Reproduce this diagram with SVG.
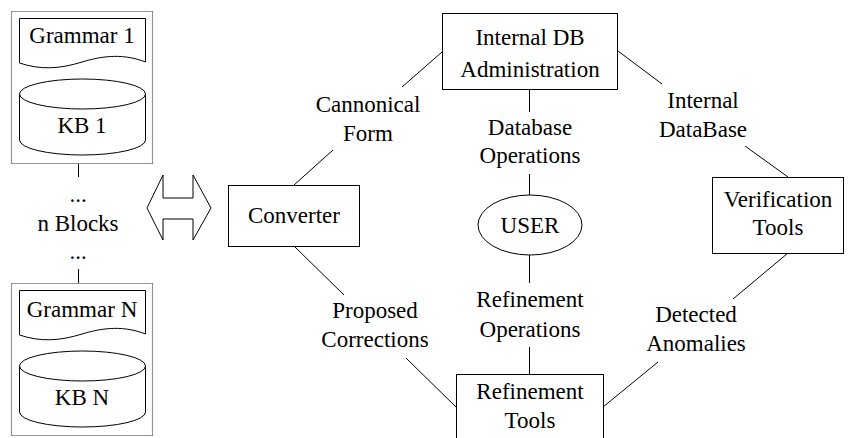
<svg xmlns="http://www.w3.org/2000/svg" width="857" height="438" viewBox="0 0 857 438" font-family="Liberation Serif, DejaVu Serif, serif">
<style>
text{font-size:23px;fill:#000;text-anchor:middle}
.s{fill:#fff;stroke:#000;stroke-width:1}
.blk{fill:#fff;stroke:#555;stroke-width:1.2;stroke-dasharray:1.2,0.8}
.c line{stroke:#000;stroke-width:1}
</style>
<defs>
<g id="block">
<rect class="blk" x="11.5" y="11.5" width="141" height="152"/>
<path class="s" d="M19.5,18.5 H145.5 V62 C125,54 105,55 82,62 C60,69 40,70 19.5,63 Z"/>
<path class="s" d="M19.5,94 V140 A63,15 0 0 0 145.5,140 V94"/>
<ellipse class="s" cx="82.5" cy="94" rx="63" ry="15"/>
</g>
</defs>
<rect width="857" height="438" fill="#fff"/>
<g class="c">
<line x1="78.5" y1="163" x2="78.5" y2="177"/>
<line x1="78.5" y1="269" x2="78.5" y2="283"/>
<line x1="294" y1="185" x2="333" y2="150"/>
<line x1="402" y1="87" x2="442" y2="52"/>
<line x1="618" y1="51" x2="662" y2="84"/>
<line x1="745" y1="146" x2="788" y2="177"/>
<line x1="788" y1="253" x2="733" y2="299"/>
<line x1="658" y1="362" x2="603" y2="407"/>
<line x1="294" y1="246" x2="344" y2="295"/>
<line x1="406" y1="358" x2="456" y2="407"/>
<line x1="529.5" y1="89" x2="529.5" y2="112"/>
<line x1="529.5" y1="174" x2="529.5" y2="195"/>
<line x1="529.5" y1="255" x2="529.5" y2="283"/>
<line x1="529.5" y1="347" x2="529.5" y2="374"/>
</g>
<g id="block1">
<use href="#block"/>
<text x="82" y="43" font-family="Liberation Serif">Grammar 1</text>
<text x="82" y="133">KB 1</text>
</g>
<g id="blockN">
<use href="#block" transform="translate(0,272)"/>
<text x="82" y="317">Grammar N</text>
<text x="82" y="405">KB N</text>
</g>
<g id="nblocks">
<text x="78" y="202">...</text>
<text x="78" y="231">n Blocks</text>
<text x="78" y="259">...</text>
</g>
<g id="arrow">
<polygon class="s" points="147,208 163,175 163,198 193,198 193,175 211,208 193,240 193,219 163,219 163,240"/>
</g>
<g id="converter">
<rect class="s" x="228.5" y="185.5" width="131" height="61"/>
<text x="294" y="223">Converter</text>
</g>
<g id="idb">
<rect class="s" x="442.5" y="13.5" width="175" height="76"/>
<text x="530" y="45">Internal DB</text>
<text x="530" y="77">Administration</text>
</g>
<g id="user">
<ellipse class="s" cx="530" cy="225" rx="52" ry="30"/>
<text x="530" y="233">USER</text>
</g>
<g id="verification">
<rect class="s" x="712.5" y="177.5" width="131" height="76"/>
<text x="778" y="207">Verification</text>
<text x="778" y="235">Tools</text>
</g>
<g id="refinement">
<rect class="s" x="456.5" y="374.5" width="147" height="70"/>
<text x="530" y="399">Refinement</text>
<text x="530" y="428">Tools</text>
</g>
<g id="labels">
<text x="368" y="112">Cannonical</text>
<text x="368" y="141">Form</text>
<text x="530" y="135">Database</text>
<text x="530" y="163">Operations</text>
<text x="703" y="108">Internal</text>
<text x="703" y="137">DataBase</text>
<text x="375" y="318">Proposed</text>
<text x="375" y="347">Corrections</text>
<text x="530" y="307">Refinement</text>
<text x="530" y="337">Operations</text>
<text x="696" y="322">Detected</text>
<text x="696" y="351">Anomalies</text>
</g>
</svg>
